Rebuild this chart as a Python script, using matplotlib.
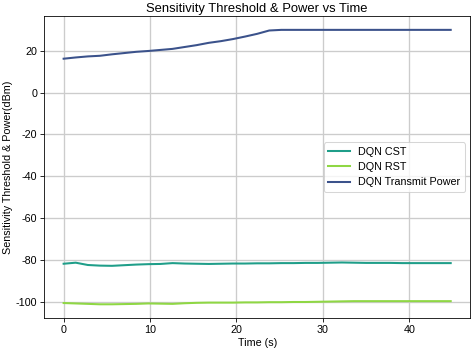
import matplotlib
matplotlib.use("Agg")
import matplotlib.pyplot as plt

plt.rcParams["font.family"] = ["Liberation Sans", "DejaVu Sans"]
plt.rcParams["font.size"] = 10.5
plt.rcParams["axes.unicode_minus"] = False

# Time axis (s)
time_s = [0.0, 1.4, 2.8, 4.2, 5.6, 7.0, 8.4, 9.8, 11.2, 12.6, 14.0, 15.4, 16.8,
          18.2, 19.6, 21.0, 22.4, 23.8, 25.2, 26.6, 28.0, 29.4, 30.8, 32.2,
          33.6, 35.0, 36.4, 37.8, 39.2, 40.6, 42.0, 43.4, 44.8]

# DQN carrier sensing threshold (dBm)
cst = [-81.9, -81.4, -82.5, -82.8, -82.9, -82.6, -82.3, -82.1, -82.0, -81.6,
       -81.8, -81.9, -82.0, -81.9, -81.8, -81.8, -81.7, -81.7, -81.6, -81.6,
       -81.5, -81.5, -81.4, -81.3, -81.4, -81.5, -81.5, -81.5, -81.6, -81.6,
       -81.6, -81.6, -81.6]

# DQN receiver sensitivity threshold (dBm)
rst = [-100.7, -100.9, -101.1, -101.3, -101.3, -101.2, -101.1, -100.9, -101.0,
       -101.1, -100.8, -100.6, -100.5, -100.5, -100.5, -100.4, -100.4, -100.3,
       -100.3, -100.2, -100.2, -100.1, -100.0, -99.9, -99.8, -99.8, -99.8,
       -99.8, -99.8, -99.8, -99.8, -99.8, -99.8]

# DQN transmit power (dBm)
tx_power = [16.2, 16.8, 17.3, 17.6, 18.3, 18.9, 19.5, 19.9, 20.4, 20.9, 21.8,
            22.7, 23.8, 24.6, 25.6, 26.8, 28.1, 29.7, 30.0, 30.0, 30.0, 30.0,
            30.0, 30.0, 30.0, 30.0, 30.0, 30.0, 30.0, 30.0, 30.0, 30.0, 30.0]

fig, ax = plt.subplots(figsize=(471 / 73.6, 351 / 73.6), dpi=73.6)

ax.plot(time_s, cst, color="#1f9e89", linewidth=2, label="DQN CST")
ax.plot(time_s, rst, color="#8fd744", linewidth=2, label="DQN RST")
ax.plot(time_s, tx_power, color="#3b528b", linewidth=2, label="DQN Transmit Power")

ax.set_title("Sensitivity Threshold & Power vs Time", fontsize=12.7, pad=4)
ax.set_xlabel("Time (s)", labelpad=3)
ax.set_ylabel("Sensitivity Threshold & Power(dBm)", labelpad=3)
ax.grid(True, color="#cccccc", linewidth=1.3)
ax.set_axisbelow(True)
ax.tick_params(length=4, pad=3)
ax.legend(loc="center right", fontsize=10.5)

fig.subplots_adjust(left=0.094, right=0.998, top=0.954, bottom=0.094)
plt.savefig("out.png", dpi=73.6)
